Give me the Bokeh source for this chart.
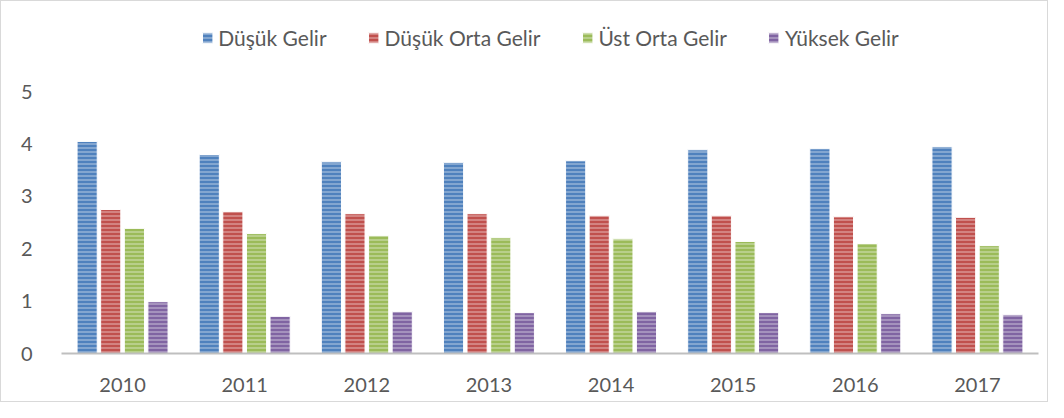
from bokeh.plotting import figure
from bokeh.models import ColumnDataSource, FactorRange, Legend, FixedTicker
from bokeh.transform import dodge
from bokeh.embed import file_html
from bokeh.resources import INLINE

years = ["2010", "2011", "2012", "2013", "2014", "2015", "2016", "2017"]
dusuk = [4.05, 3.80, 3.66, 3.65, 3.68, 3.89, 3.91, 3.95]
dusuk_orta = [2.75, 2.71, 2.67, 2.67, 2.63, 2.63, 2.61, 2.60]
ust_orta = [2.39, 2.29, 2.25, 2.21, 2.19, 2.14, 2.10, 2.06]
yuksek = [0.99, 0.71, 0.80, 0.78, 0.80, 0.78, 0.76, 0.74]
series_names = ["Düşük Gelir", "Düşük Orta Gelir", "Üst Orta Gelir", "Yüksek Gelir"]
y_ticks = [0, 1, 2, 3, 4, 5]

colors = ["#4f81bd", "#c0504d", "#9bbb59", "#8064a2"]
offsets = [-0.29, -0.097, 0.097, 0.29]
FONT = "Lato"
TXT = "#595959"

src = ColumnDataSource(dict(year=years, s0=dusuk, s1=dusuk_orta, s2=ust_orta, s3=yuksek))

p = figure(width=1048, height=402, x_range=FactorRange(*years), y_range=(0, 6.34),
           output_backend="svg", toolbar_location=None,
           min_border_left=60, min_border_right=11, min_border_top=20, min_border_bottom=50)
p.styles = {"border": "1px solid #d9d9d9", "box-sizing": "border-box"}

renderers = []
for i, key in enumerate(["s0", "s1", "s2", "s3"]):
    r = p.vbar(x=dodge("year", offsets[i], range=p.x_range), top=key, width=0.165, source=src,
               fill_color=colors[i], line_color="white", line_width=1,
               hatch_pattern="horizontal_line", hatch_color="white", hatch_alpha=0.45,
               hatch_scale=4, hatch_weight=1.3)
    renderers.append(r)

legend = Legend(items=[(series_names[i], [renderers[i]]) for i in range(4)],
                orientation="horizontal", location="top_center",
                label_text_font=FONT, label_text_font_size="21px", label_text_color=TXT,
                glyph_width=13, glyph_height=13, label_standoff=5, spacing=40,
                border_line_color=None, background_fill_alpha=0, margin=4, padding=3)
p.add_layout(legend, "center")

p.xgrid.grid_line_color = None
p.ygrid.grid_line_color = None
p.outline_line_color = None

p.yaxis.ticker = FixedTicker(ticks=y_ticks)
p.yaxis.axis_line_color = None
p.yaxis.major_tick_line_color = None
p.yaxis.minor_tick_line_color = None
p.yaxis.major_label_standoff = 23
p.yaxis.major_label_text_font = FONT
p.yaxis.major_label_text_font_size = "20px"
p.yaxis.major_label_text_color = TXT

p.xaxis.axis_line_color = "#bfbfbf"
p.xaxis.axis_line_width = 2
p.xaxis.major_tick_line_color = None
p.xaxis.minor_tick_line_color = None
p.xaxis.major_label_standoff = 18
p.xaxis.major_label_text_font = FONT
p.xaxis.major_label_text_font_size = "20px"
p.xaxis.major_label_text_color = TXT
p.x_range.range_padding = 0
p.x_range.group_padding = 0

open("out.html", "w").write(file_html(p, INLINE))
